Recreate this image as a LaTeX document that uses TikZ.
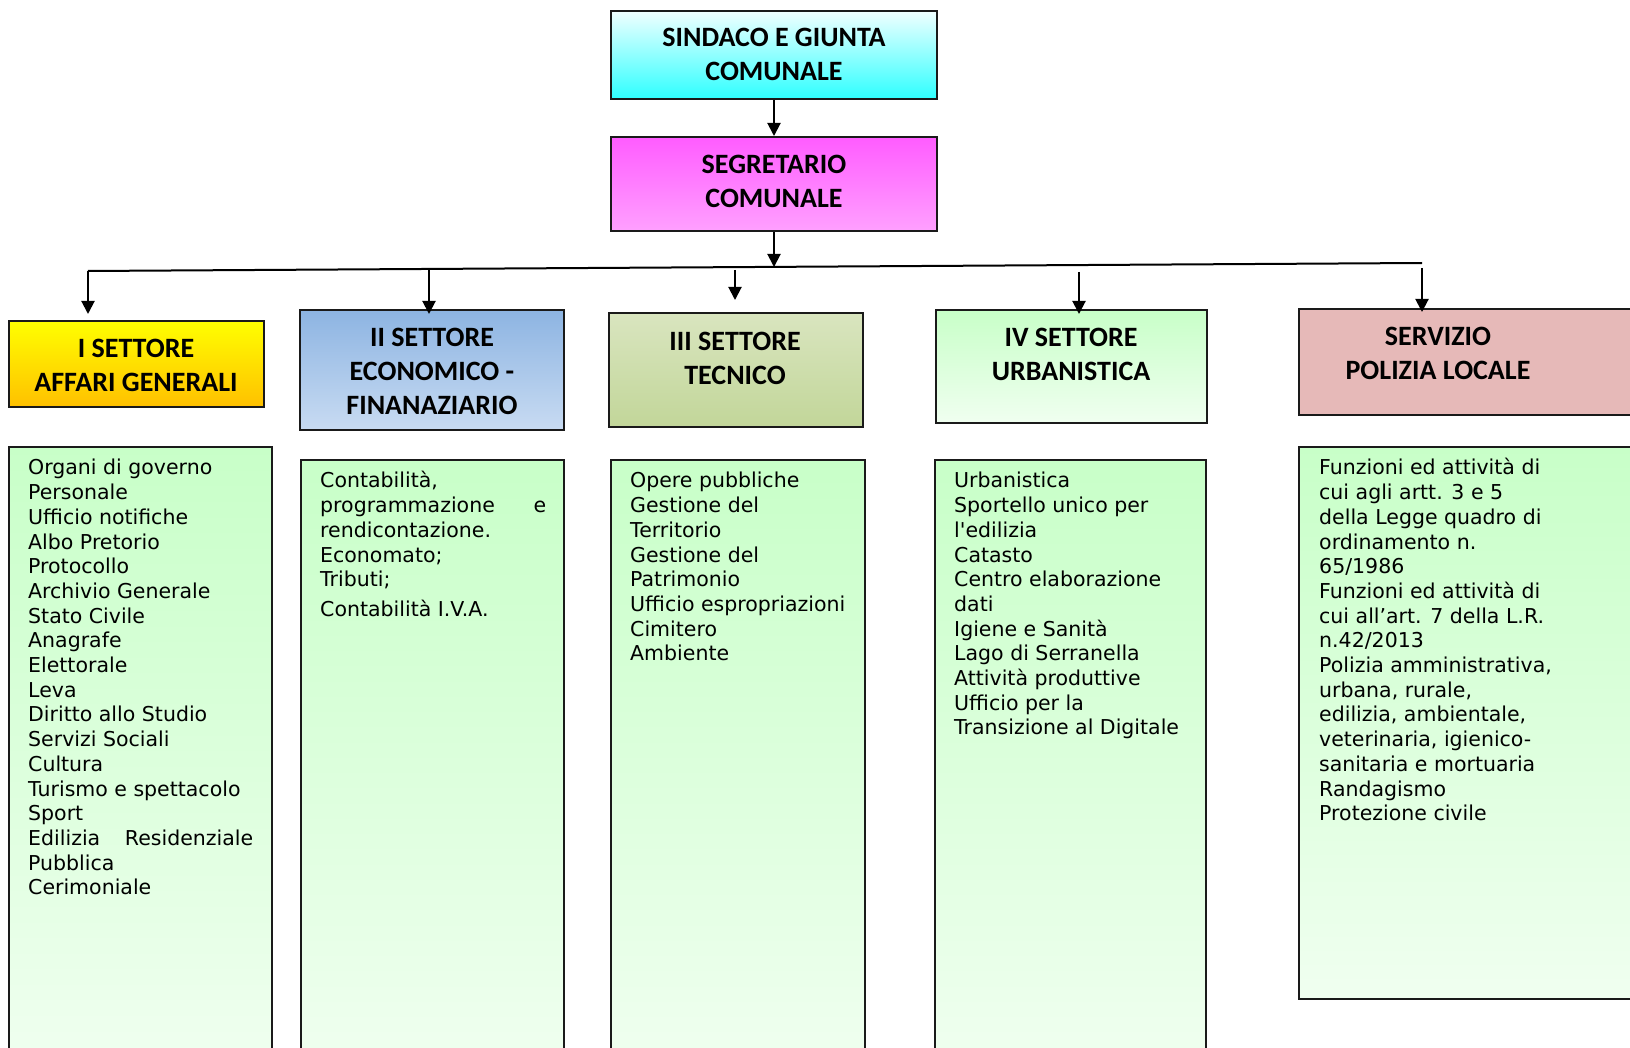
\documentclass[tikz,border=0pt]{standalone}
\usepackage{fontspec}
\setmainfont{DejaVu Sans}
\newfontfamily\hdrfont{Carlito}
\usetikzlibrary{arrows.meta}
\definecolor{cyTop}{HTML}{F0FFFF}
\definecolor{cyBot}{HTML}{2EFFFF}
\definecolor{mgTop}{HTML}{FF5CFF}
\definecolor{mgBot}{HTML}{FFA0FF}
\definecolor{ylTop}{HTML}{FFFF00}
\definecolor{ylBot}{HTML}{FFC000}
\definecolor{blTop}{HTML}{8DB4E2}
\definecolor{blBot}{HTML}{C8DBF2}
\definecolor{olTop}{HTML}{D9E5BF}
\definecolor{olBot}{HTML}{C2D699}
\definecolor{lgTop}{HTML}{C8FFC8}
\definecolor{lgBot}{HTML}{F0FFF0}
\definecolor{rose}{HTML}{E6B9B8}
\definecolor{edge}{HTML}{1A1A1A}
\begin{document}
\begin{tikzpicture}[x=1pt,y=-1pt,
  box/.style={draw=edge, line width=2pt, rectangle, inner sep=0pt},
  hdr/.style={font=\hdrfont\bfseries\fontsize{28}{34}\selectfont, align=center, inner sep=0pt},
  body/.style={font=\fontsize{20.5}{24.7}\selectfont, align=left, inner sep=0pt, anchor=north west},
  arr/.style={line width=2pt, -{Triangle[length=13pt,width=13pt]}},
  bus/.style={line width=2pt}]
\useasboundingbox (0,0) rectangle (1630,1048);
\clip (0,0) rectangle (1630,1048);
\fill[white] (0,0) rectangle (1630,1048);

% top boxes
\node[box, minimum width=326pt, minimum height=88pt, top color=cyTop, bottom color=cyBot] (sind) at (774,55) {};
\node[hdr] (sindt) at (774,54.5) {SINDACO E GIUNTA\\COMUNALE};
\node[box, minimum width=326pt, minimum height=94pt, top color=mgTop, bottom color=mgBot] (segr) at (774,184) {};
\node[hdr] (segrt) at (774,181) {SEGRETARIO\\COMUNALE};

% sector headers
\node[box, minimum width=255pt, minimum height=86pt, top color=ylTop, bottom color=ylBot] (s1) at (136.5,364) {};
\node[hdr] (s1t) at (136,365) {I SETTORE\\AFFARI GENERALI};
\node[box, minimum width=264pt, minimum height=120pt, top color=blTop, bottom color=blBot] (s2) at (432,370) {};
\node[hdr] (s2t) at (432,371.5) {II SETTORE\\ECONOMICO -\\FINANAZIARIO};
\node[box, minimum width=254pt, minimum height=114pt, top color=olTop, bottom color=olBot] (s3) at (736,370) {};
\node[hdr] (s3t) at (735,358) {III SETTORE\\TECNICO};
\node[box, minimum width=271pt, minimum height=113pt, top color=lgTop, bottom color=lgBot] (s4) at (1071.5,366.5) {};
\node[hdr] (s4t) at (1071,354.5) {IV SETTORE\\URBANISTICA};
\node[box, minimum width=346pt, minimum height=106pt, fill=rose] (s5) at (1472,362) {};
\node[hdr] (s5t) at (1438,353.5) {SERVIZIO\\POLIZIA LOCALE};

% content boxes
\node[box, minimum width=263pt, minimum height=623pt, top color=lgTop, bottom color=lgBot] (c1) at (140.5,758.5) {};
\node[box, minimum width=263pt, minimum height=610pt, top color=lgTop, bottom color=lgBot] (c2) at (432.5,765) {};
\node[box, minimum width=254pt, minimum height=610pt, top color=lgTop, bottom color=lgBot] (c3) at (738,765) {};
\node[box, minimum width=271pt, minimum height=610pt, top color=lgTop, bottom color=lgBot] (c4) at (1070.5,765) {};
\node[box, minimum width=346pt, minimum height=552pt, top color=lgTop, bottom color=lgBot] (c5) at (1472,723) {};

\node[body] (c1t) at (28,457.5) {\strut Organi di governo\\Personale\\Ufficio notifiche\\Albo Pretorio\\Protocollo\\Archivio Generale\\Stato Civile\\Anagrafe\\Elettorale\\Leva\\Diritto allo Studio\\Servizi Sociali\\Cultura\\Turismo e spettacolo\\Sport\\\makebox[225pt][s]{Edilizia Residenziale}\\Pubblica\\Cerimoniale};
\node[body] (c2t) at (320,470.5) {\strut Contabilità,\\\makebox[226pt][s]{programmazione e}\\rendicontazione.\\Economato;\\Tributi;\\[5.5pt]Contabilità I.V.A.};
\node[body] (c3t) at (630,470.5) {\strut Opere pubbliche\\Gestione del\\Territorio\\Gestione del\\Patrimonio\\Ufficio espropriazioni\\Cimitero\\Ambiente};
\node[body] (c4t) at (954,470.5) {\strut Urbanistica\\Sportello unico per\\l\textquotesingle edilizia\\Catasto\\Centro elaborazione\\dati\\Igiene e Sanità\\Lago di Serranella\\Attività produttive\\Ufficio per la\\Transizione al Digitale};
\node[body] (c5t) at (1319,457.5) {\strut Funzioni ed attività di\\cui agli artt. 3 e 5\\della Legge quadro di\\ordinamento n.\\65/1986\\Funzioni ed attività di\\cui all’art. 7 della L.R.\\n.42/2013\\Polizia amministrativa,\\urbana, rurale,\\edilizia, ambientale,\\veterinaria, igienico-\\sanitaria e mortuaria\\Randagismo\\Protezione civile};

% connectors
\coordinate (busL) at (88,271);
\coordinate (busR) at (1422,263);
\coordinate (busM) at (774,267);
\draw[arr] (sind.south) -- (segr.north);
\draw[arr] (segr.south) -- (busM);
\draw[bus] (busL) -- (busR);
\coordinate (b1) at (88,271);   \coordinate (t1) at (88,314);
\coordinate (b2) at (429,270);  \coordinate (t2) at (429,314);
\coordinate (b3) at (735,270);  \coordinate (t3) at (735,300);
\coordinate (b4) at (1079,272); \coordinate (t4) at (1079,314);
\coordinate (b5) at (1422,268); \coordinate (t5) at (1422,312);
\draw[arr] (b1) -- (t1);
\draw[arr] (b2) -- (t2);
\draw[arr] (b3) -- (t3);
\draw[arr] (b4) -- (t4);
\draw[arr] (b5) -- (t5);
\end{tikzpicture}
\end{document}
